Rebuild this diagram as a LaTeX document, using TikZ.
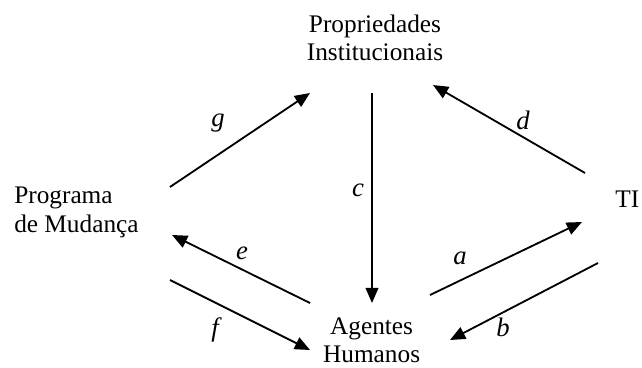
\documentclass[tikz,border=0pt]{standalone}
\usepackage{fontspec}
\setmainfont{Liberation Serif}
\usetikzlibrary{arrows.meta,positioning}

\begin{document}
\begin{tikzpicture}[>={Triangle[length=3.8mm,width=3.2mm]},
    font=\fontsize{18}{20}\selectfont,
    seta/.style={->,line width=1.3pt},
    rot/.style={font=\fontsize{19}{20}\selectfont\itshape}]
  \useasboundingbox (0,0) rectangle (16.05,9.175);
  % os quatro elementos
  \node[anchor=base,align=center] (prop) at (9.375,7.65) {Propriedades\\Institucionais};
  \node[anchor=base west,align=left,inner sep=0pt] (prog) at (0.35,3.375) {Programa\\de Mudança};
  \node[anchor=base west,inner sep=0pt] (ti) at (15.375,3.975) {TI};
  \node[anchor=base,align=center,inner sep=0pt] (agent) at (9.29,0.12) {Agentes\\Humanos};
  % pontas das setas
  \coordinate (g0) at (4.25,4.50);   \coordinate (g1) at (7.75,6.85);
  \coordinate (c0) at (9.30,6.85);   \coordinate (c1) at (9.30,1.60);
  \coordinate (d0) at (14.625,4.85); \coordinate (d1) at (10.825,7.05);
  \coordinate (e0) at (7.75,1.60);   \coordinate (e1) at (4.30,3.30);
  \coordinate (f0) at (4.25,2.175);  \coordinate (f1) at (7.75,0.425);
  \coordinate (a0) at (10.75,1.80);  \coordinate (a1) at (14.55,3.625);
  \coordinate (b0) at (14.95,2.60);  \coordinate (b1) at (11.25,0.675);
  \draw[seta] (g0) -- (g1);
  \draw[seta] (c0) -- (c1);
  \draw[seta] (d0) -- (d1);
  \draw[seta] (e0) -- (e1);
  \draw[seta] (f0) -- (f1);
  \draw[seta] (a0) -- (a1);
  \draw[seta] (b0) -- (b1);
  % rotulos
  \node[rot] (lg) at (5.45,6.10) {g};
  \node[rot] (lc) at (8.95,4.425) {c};
  \node[rot] (ld) at (13.075,6.175) {d};
  \node[rot] (le) at (6.05,2.85) {e};
  \node[rot] (lf) at (5.375,0.925) {f};
  \node[rot] (la) at (11.5,2.725) {a};
  \node[rot] (lb) at (12.575,1.0) {b};
\end{tikzpicture}
\end{document}
